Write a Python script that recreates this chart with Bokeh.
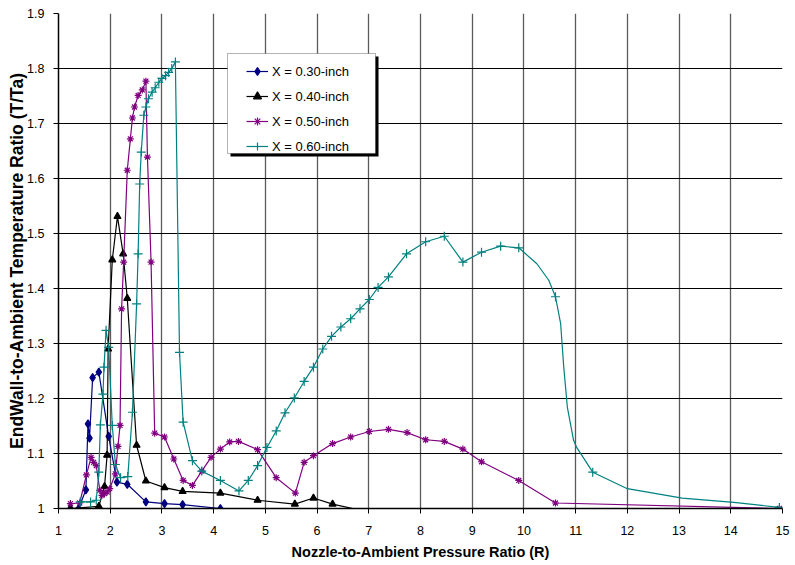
from bokeh.plotting import figure
from bokeh.models import (Legend, LegendItem, FixedTicker, CustomJSTickFormatter,
                          BoxAnnotation, Range1d)
from bokeh.embed import file_html
from bokeh.resources import INLINE

# ---------------- data ----------------
x_ticks = list(range(1, 16))
y_ticks = [1.0, 1.1, 1.2, 1.3, 1.4, 1.5, 1.6, 1.7, 1.8, 1.9]

labels = ["X = 0.30-inch", "X = 0.40-inch", "X = 0.50-inch", "X = 0.60-inch"]

x_030 = [1.23, 1.39, 1.53, 1.57, 1.60, 1.66, 1.78, 1.97, 2.13, 2.33, 2.69, 3.05, 3.40, 4.13, 5.54]
y_030 = [1.000, 1.000, 1.034, 1.154, 1.128, 1.238, 1.248, 1.131, 1.048, 1.044, 1.012, 1.009, 1.007, 1.000, 0.993]

x_040 = [1.23, 1.78, 1.89, 1.94, 1.96, 2.04, 2.14, 2.25, 2.33, 2.51, 2.69, 3.05, 3.40, 4.13,
         4.85, 5.57, 5.93, 6.30, 7.02]
y_040 = [1.000, 1.004, 1.040, 1.097, 1.290, 1.452, 1.531, 1.463, 1.382, 1.115, 1.050, 1.038,
         1.031, 1.028, 1.015, 1.008, 1.019, 1.008, 0.993]

x_050 = [1.23, 1.41, 1.54, 1.63, 1.68, 1.73, 1.80, 1.84, 1.89, 1.94, 1.99, 2.10, 2.15, 2.19,
         2.22, 2.26, 2.33, 2.39, 2.43, 2.47, 2.54, 2.62, 2.69, 2.72, 2.79, 2.86, 3.05, 3.23,
         3.41, 3.59, 3.77, 3.95, 4.13, 4.31, 4.48, 4.85, 5.21, 5.58, 5.75, 5.93, 6.30, 6.65,
         7.01, 7.38, 7.74, 8.10, 8.46, 8.82, 9.18, 9.90, 10.61, 14.94]
y_050 = [1.009, 1.010, 1.061, 1.093, 1.084, 1.078, 1.033, 1.024, 1.027, 1.030, 1.036, 1.063,
         1.113, 1.151, 1.363, 1.448, 1.615, 1.672, 1.710, 1.730, 1.751, 1.761, 1.777, 1.639,
         1.448, 1.137, 1.130, 1.090, 1.051, 1.042, 1.068, 1.093, 1.108, 1.121, 1.122, 1.107,
         1.056, 1.028, 1.084, 1.096, 1.118, 1.130, 1.140, 1.144, 1.138, 1.125, 1.122, 1.108,
         1.085, 1.051, 1.010, 1.000]

x_060 = [1.42, 1.62, 1.73, 1.78, 1.81, 1.86, 1.88, 1.92, 1.97, 2.04, 2.10, 2.20, 2.34, 2.43,
         2.51, 2.54, 2.57, 2.60, 2.65, 2.69, 2.74, 2.81, 2.87, 2.94, 3.00, 3.07, 3.13, 3.19,
         3.26, 3.34, 3.41, 3.59, 3.77, 4.13, 4.49, 4.67, 4.85, 5.03, 5.21, 5.38, 5.56, 5.75,
         5.93, 6.11, 6.28, 6.46, 6.65, 6.83, 7.01, 7.18, 7.38, 7.73, 8.10, 8.46, 8.82, 9.18,
         9.55, 9.90, 10.61, 11.33, 14.94]
y_060 = [1.012, 1.012, 1.015, 1.066, 1.152, 1.208, 1.257, 1.324, 1.293, 1.151, 1.080, 1.056,
         1.058, 1.175, 1.372, 1.463, 1.590, 1.648, 1.715, 1.730, 1.745, 1.757, 1.765, 1.775,
         1.782, 1.787, 1.793, 1.800, 1.812, 1.284, 1.157, 1.087, 1.068, 1.051, 1.032, 1.051,
         1.078, 1.111, 1.141, 1.174, 1.201, 1.231, 1.257, 1.290, 1.313, 1.330, 1.345, 1.363,
         1.380, 1.402, 1.421, 1.463, 1.485, 1.495, 1.448, 1.466, 1.477, 1.474, 1.385, 1.066,
         1.002]
# extra points read along the smoothed X = 0.60 curve (no markers there)
x_060_curve = [10.25, 10.48, 10.71, 10.77, 10.84, 10.96, 11.02, 12.00, 13.06, 14.06]
y_060_curve = [1.445, 1.415, 1.336, 1.257, 1.184, 1.124, 1.111, 1.036, 1.019, 1.011]

# ---------------- styling ----------------
FONT = "Liberation Sans"
colors = ["#000080", "#000000", "#800080", "#008080"]
markers = ["diamond", "triangle", "asterisk", "cross"]
msizes = [8, 7, 7, 9]

p = figure(width=795, height=565, output_backend="svg", toolbar_location=None,
           x_range=Range1d(1, 15), y_range=Range1d(1, 1.9),
           min_border_left=58, min_border_right=13, min_border_top=13, min_border_bottom=57,
           background_fill_color="white", border_fill_color="white")
p.outline_line_color = None

# grids
p.xgrid.ticker = FixedTicker(ticks=x_ticks)
p.ygrid.ticker = FixedTicker(ticks=y_ticks)
p.xgrid.grid_line_color = "#5a5a5a"
p.xgrid.grid_line_width = 1.3
p.ygrid.grid_line_color = "#000000"
p.ygrid.grid_line_width = 1

# axes
p.xaxis.ticker = FixedTicker(ticks=x_ticks)
p.yaxis.ticker = FixedTicker(ticks=y_ticks)
p.yaxis.formatter = CustomJSTickFormatter(code="return String(Math.round(tick*10)/10);")
for ax in (p.xaxis[0], p.yaxis[0]):
    ax.axis_line_color = "black"
    ax.axis_line_width = 1.5
    ax.major_tick_in = 0
    ax.major_tick_out = 5
    ax.major_tick_line_color = "black"
    ax.minor_tick_in = 0
    ax.minor_tick_out = 0
    ax.major_label_text_font = FONT
    ax.major_label_text_font_size = "12.5px"
    ax.major_label_text_color = "black"
    ax.axis_label_text_font = FONT
    ax.axis_label_text_font_style = "bold"
    ax.axis_label_text_color = "black"

p.xaxis.axis_label = "Nozzle-to-Ambient Pressure Ratio (R)"
p.xaxis.axis_label_text_font_size = "14.5px"
p.xaxis.major_label_standoff = 12
p.xaxis.axis_label_standoff = 6
p.yaxis.axis_label = "EndWall-to-Ambient Temperature Ratio (T/Ta)"
p.yaxis.axis_label_text_font_size = "17.5px"
p.yaxis.major_label_standoff = 9
p.yaxis.axis_label_standoff = -3

# series
series = [(x_030, y_030, x_030, y_030),
          (x_040, y_040, x_040, y_040),
          (x_050, y_050, x_050, y_050)]
pts = sorted(zip(x_060 + x_060_curve, y_060 + y_060_curve))
series.append(([a for a, b in pts], [b for a, b in pts], x_060, y_060))

items = []
for (lx, ly, mx, my), c, m, s, lab in zip(series, colors, markers, msizes, labels):
    ln = p.line(lx, ly, line_color=c, line_width=1.2)
    sc = p.scatter(mx, my, marker=m, size=s, fill_color=c, line_color=c, line_width=1.2)
    items.append(LegendItem(label=lab, renderers=[ln, sc]))

# legend box (white with a dark shadow), placed in data space
shadow = BoxAnnotation(left=4.326, right=7.188, bottom=1.640, top=1.8218,
                       fill_color="black", fill_alpha=1, line_color=None)
box = BoxAnnotation(left=4.268, right=7.130, bottom=1.6455, top=1.8273,
                    fill_color="white", fill_alpha=1, line_color="black", line_width=1)
p.add_layout(shadow)
p.add_layout(box)

legend = Legend(items=items, location=(188, 352), padding=4, spacing=5, margin=0,
                glyph_width=22, glyph_height=20, label_height=20, label_standoff=4,
                border_line_color=None, background_fill_alpha=0,
                label_text_font=FONT, label_text_font_size="13px", label_text_color="black")
p.add_layout(legend)

open("out.html", "w").write(file_html(p, INLINE))
